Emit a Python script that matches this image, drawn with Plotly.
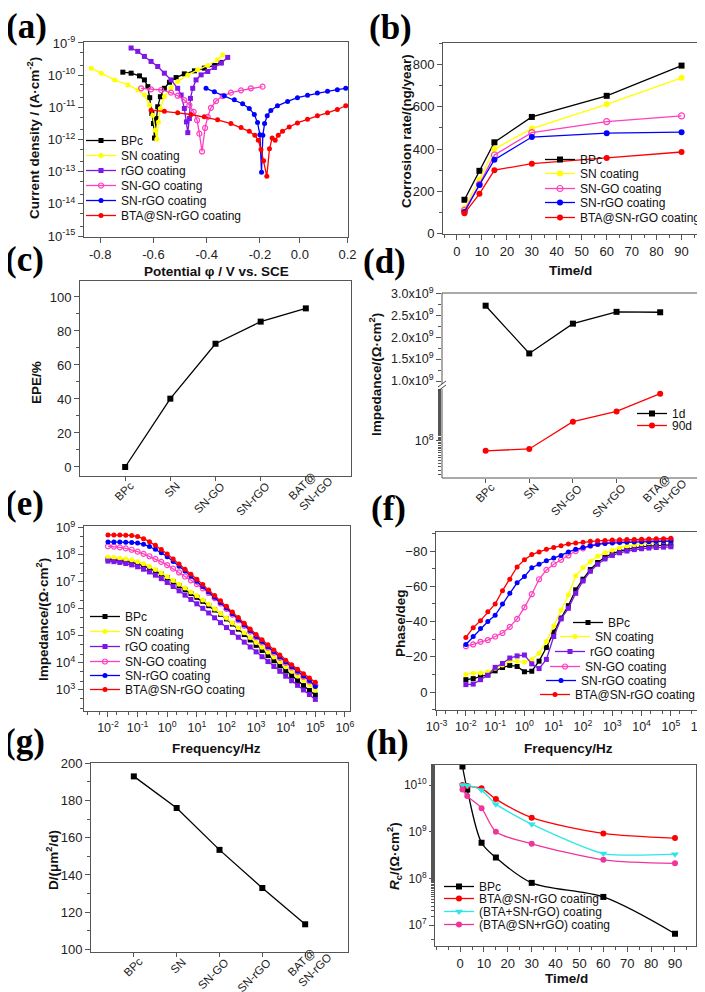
import plotly.graph_objects as go

W, H = 705, 992
FONT = "Liberation Sans, Arial, sans-serif"
SERIF = "Liberation Serif, Times New Roman, serif"

# ---------------- colours ----------------
C_BPC, C_SN, C_RGO, C_SNGO, C_SNRGO, C_BTA = "#000000", "#FFFF00", "#7D16E8", "#FF3FC0", "#0000FF", "#FF0000"
C_CYAN, C_MAG = "#2EE6E6", "#F0359A"

# ---------------- (a) Tafel ----------------
a_bpc_E = [-0.715, -0.684, -0.6525, -0.634, -0.621, -0.614, -0.606, -0.600, -0.596, -0.590, -0.584, -0.574, -0.559, -0.540, -0.515, -0.484, -0.446, -0.409, -0.371, -0.346]
a_bpc_logI = [-9.908, -9.939, -10.023, -10.148, -10.357, -10.701, -11.192, -11.505, -11.954, -11.349, -10.983, -10.670, -10.409, -10.221, -10.075, -9.960, -9.866, -9.783, -9.699, -9.605]
a_sn_E = [-0.834, -0.796, -0.746, -0.696, -0.659, -0.634, -0.615, -0.6025, -0.594, -0.5875, -0.581, -0.574, -0.559, -0.534, -0.509, -0.471, -0.434, -0.396, -0.359, -0.340]
a_sn_logI = [-9.783, -9.939, -10.148, -10.305, -10.461, -10.618, -10.931, -11.244, -11.714, -11.996, -11.453, -11.035, -10.670, -10.388, -10.200, -9.992, -9.835, -9.699, -9.522, -9.365]
a_rgo_E = [-0.684, -0.659, -0.634, -0.609, -0.584, -0.559, -0.534, -0.509, -0.496, -0.484, -0.476, -0.471, -0.465, -0.461, -0.4525, -0.440, -0.421, -0.396, -0.371, -0.346, -0.321]
a_rgo_logI = [-9.157, -9.261, -9.418, -9.574, -9.731, -9.939, -10.148, -10.409, -10.618, -11.035, -11.453, -11.787, -11.349, -10.722, -10.409, -10.148, -9.992, -9.887, -9.762, -9.626, -9.449]
a_sngo_E = [-0.646, -0.609, -0.571, -0.534, -0.509, -0.484, -0.465, -0.449, -0.436, -0.4275, -0.4175, -0.406, -0.396, -0.384, -0.365, -0.340, -0.309, -0.271, -0.234, -0.190]
a_sngo_logI = [-10.409, -10.441, -10.461, -10.545, -10.639, -10.775, -10.931, -11.140, -11.401, -11.818, -12.372, -11.641, -11.296, -11.015, -10.806, -10.649, -10.545, -10.472, -10.409, -10.357]
a_snrgo_E = [-0.4025, -0.371, -0.334, -0.296, -0.265, -0.240, -0.221, -0.209, -0.200, -0.194, -0.189, -0.1825, -0.1725, -0.159, -0.134, -0.096, -0.059, -0.021, 0.016, 0.054, 0.091, 0.1225]
a_snrgo_logI = [-10.409, -10.514, -10.639, -10.764, -10.889, -11.035, -11.223, -11.474, -11.850, -13.019, -11.871, -11.505, -11.265, -11.098, -10.952, -10.816, -10.701, -10.628, -10.555, -10.503, -10.451, -10.409]
a_bta_E = [-0.609, -0.559, -0.509, -0.459, -0.409, -0.359, -0.309, -0.271, -0.240, -0.219, -0.206, -0.196, -0.186, -0.174, -0.164, -0.154, -0.1425, -0.131, -0.115, -0.090, -0.059, -0.021, 0.016, 0.054, 0.091, 0.1225]
a_bta_logI = [-11.088, -11.119, -11.171, -11.223, -11.296, -11.390, -11.505, -11.630, -11.745, -11.871, -12.027, -12.309, -12.664, -13.144, -12.288, -11.954, -12.027, -11.871, -11.745, -11.610, -11.484, -11.370, -11.265, -11.171, -11.067, -10.952]
a_tick_pos = [-0.8, -0.6, -0.4, -0.2, -0.05, 0.129]
a_tick_text = ["-0.8", "-0.6", "-0.4", "-0.2", "0.0", "0.2"]

# ---------------- (b) corrosion rate ----------------
b_days = [3, 9, 15, 30, 60, 90]
b_bpc = [160, 297, 432, 552, 652, 795]
b_sn = [120, 255, 400, 497, 612, 737]
b_sngo = [110, 233, 372, 478, 530, 557]
b_snrgo = [102, 230, 350, 457, 475, 480]
b_bta = [96, 188, 300, 331, 358, 386]

# ---------------- (c) EPE ----------------
cat_c = ["BPc", "SN", "SN-GO", "SN-rGO", "BAT@<br>SN-rGO"]
c_epe = [0, 40.2, 72.5, 85.5, 93.3]

# ---------------- (d) impedance 1d / 90d ----------------
cat_d = ["BPc", "SN", "SN-GO", "SN-rGO", "BTA@<br>SN-rGO"]
d_1d = [2.72e9, 1.63e9, 2.31e9, 2.58e9, 2.57e9]
d_90d = [7.0e7, 7.5e7, 2.0e8, 2.9e8, 5.5e8]

# ---------------- (e) Bode |Z| (log10 values) ----------------
e_logf = [-2.0, -1.8, -1.6, -1.4, -1.2, -1.0, -0.8, -0.6, -0.4, -0.2, 0.0, 0.2, 0.4, 0.6, 0.8, 1.0, 1.2, 1.4, 1.6, 1.8,
          2.0, 2.2, 2.4, 2.6, 2.8, 3.0, 3.2, 3.4, 3.6, 3.8, 4.0, 4.2, 4.4, 4.6, 4.8, 5.0]
e_bpc = [7.84, 7.82, 7.79, 7.76, 7.72, 7.66, 7.59, 7.50, 7.40, 7.29, 7.16, 7.01, 6.86, 6.71, 6.57, 6.43, 6.28, 6.12, 5.96, 5.80,
         5.63, 5.44, 5.25, 5.05, 4.85, 4.65, 4.46, 4.27, 4.08, 3.89, 3.70, 3.52, 3.34, 3.16, 2.98, 2.81]
e_sn = [7.91, 7.90, 7.88, 7.85, 7.81, 7.75, 7.67, 7.57, 7.46, 7.33, 7.19, 7.05, 6.91, 6.77, 6.63, 6.49, 6.33, 6.17, 6.00, 5.83,
        5.66, 5.48, 5.30, 5.12, 4.94, 4.76, 4.58, 4.40, 4.22, 4.04, 3.86, 3.69, 3.52, 3.35, 3.18, 3.00]
e_rgo = [7.77, 7.75, 7.72, 7.68, 7.63, 7.56, 7.47, 7.37, 7.25, 7.12, 6.98, 6.83, 6.67, 6.51, 6.35, 6.19, 6.02, 5.85, 5.67, 5.49,
         5.31, 5.13, 4.95, 4.77, 4.59, 4.41, 4.23, 4.05, 3.87, 3.69, 3.51, 3.34, 3.17, 3.00, 2.83, 2.65]
e_sngo = [8.32, 8.31, 8.28, 8.24, 8.19, 8.12, 8.04, 7.95, 7.85, 7.74, 7.62, 7.49, 7.35, 7.20, 7.06, 6.92, 6.76, 6.59, 6.40, 6.20,
          6.00, 5.79, 5.58, 5.37, 5.16, 4.95, 4.76, 4.57, 4.38, 4.19, 4.00, 3.83, 3.66, 3.49, 3.32, 3.17]
e_snrgo = [8.48, 8.48, 8.48, 8.47, 8.46, 8.44, 8.39, 8.31, 8.21, 8.08, 7.93, 7.76, 7.58, 7.40, 7.21, 7.02, 6.83, 6.63, 6.43, 6.23,
           6.03, 5.82, 5.61, 5.40, 5.19, 4.98, 4.79, 4.60, 4.41, 4.22, 4.03, 3.86, 3.69, 3.52, 3.35, 3.13]
e_bta = [8.74, 8.74, 8.74, 8.73, 8.72, 8.68, 8.60, 8.49, 8.36, 8.20, 8.03, 7.85, 7.66, 7.47, 7.28, 7.10, 6.90, 6.70, 6.50, 6.30,
         6.10, 5.89, 5.68, 5.47, 5.26, 5.05, 4.86, 4.67, 4.48, 4.29, 4.10, 3.93, 3.77, 3.60, 3.44, 3.28]

# ---------------- (f) Bode phase ----------------
f_logf = [-2.0, -1.75, -1.5, -1.25, -1.0, -0.75, -0.5, -0.25, 0.0, 0.25, 0.5, 0.75, 1.0, 1.25, 1.5, 1.75, 2.0, 2.25, 2.5, 2.75,
          3.0, 3.25, 3.5, 3.75, 4.0, 4.25, 4.5, 4.75, 5.0]
f_bpc = [-7.0, -7.6, -8.8, -9.8, -12.0, -13.9, -15.1, -14.5, -11.5, -11.8, -17.5, -25.3, -34.0, -42.0, -49.0, -58.0, -64.0, -69.5, -73.5, -76.5,
         -78.5, -80.0, -81.0, -81.8, -82.4, -82.8, -83.1, -83.3, -83.5]
f_sn = [-10.0, -10.7, -10.8, -11.5, -13.5, -15.3, -17.7, -17.4, -17.0, -18.5, -22.0, -28.7, -37.5, -46.5, -55.0, -66.0, -70.5, -74.0, -77.0, -79.0,
        -80.5, -81.8, -82.8, -83.6, -84.2, -84.7, -85.1, -85.4, -85.6]
f_rgo = [-4.2, -4.5, -7.0, -9.5, -14.0, -16.2, -19.3, -20.5, -21.0, -16.0, -13.3, -18.5, -31.5, -41.5, -47.5, -56.0, -63.0, -68.5, -72.5, -75.5,
         -77.5, -79.0, -80.0, -80.8, -81.3, -81.7, -82.0, -82.2, -82.4]
f_sngo = [-26.0, -27.0, -28.5, -29.5, -31.5, -33.5, -37.0, -41.5, -48.0, -55.5, -64.0, -69.3, -72.5, -75.0, -77.5, -80.0, -81.5, -83.0, -84.0, -84.7,
          -85.2, -85.5, -85.7, -85.9, -86.0, -86.1, -86.2, -86.3, -86.4]
f_snrgo = [-27.0, -31.5, -36.0, -40.0, -43.5, -50.0, -56.0, -62.0, -65.5, -70.5, -72.5, -74.5, -76.0, -77.5, -79.5, -81.0, -82.0, -83.0, -83.8, -84.3,
           -84.6, -84.8, -85.0, -85.1, -85.2, -85.3, -85.4, -85.5, -85.6]
f_bta = [-31.0, -36.5, -40.5, -45.5, -50.0, -57.5, -64.0, -71.0, -75.0, -78.0, -79.5, -81.0, -82.0, -83.0, -84.0, -84.5, -85.0, -85.5, -85.8, -86.0,
         -86.2, -86.4, -86.5, -86.6, -86.7, -86.8, -86.9, -87.0, -87.2]

# ---------------- (g) diffusion ----------------
cat_g = ["BPc", "SN", "SN-GO", "SN-rGO", "BAT@<br>SN-rGO"]
g_D = [193, 176, 153.5, 133, 113.5]

# ---------------- (h) Rc vs time ----------------
h_days = [1, 3, 9, 15, 30, 60, 90]
h_bpc = [2.5e10, 8.0e9, 5.8e8, 2.8e8, 8.0e7, 4.0e7, 6.5e6]
h_bta = [1.0e10, 9.5e9, 8.5e9, 5.0e9, 2.0e9, 9.2e8, 7.3e8]
h_bta_plus = [1.0e10, 9.8e9, 7.8e9, 3.9e9, 1.45e9, 3.4e8, 3.3e8]
h_bta_at = [8.0e9, 5.8e9, 3.2e9, 1.0e9, 5.5e8, 2.5e8, 2.1e8]

# ======================================================================
fig = go.Figure()
layout = dict(width=W, height=H, margin=dict(l=0, r=0, t=0, b=0, autoexpand=False), paper_bgcolor="white",
              plot_bgcolor="white", font=dict(family=FONT, size=13, color="#222"), showlegend=True)
annotations, shapes = [], []
leg_n = [0]


def px_x(x):
    return x / W


def px_y(y):
    return 1 - y / H


def new_legend(line_x, cy):
    leg_n[0] += 1
    key = "legend" if leg_n[0] == 1 else f"legend{leg_n[0]}"
    layout[key] = dict(x=px_x(line_x - 10), y=px_y(cy - 7.5), xanchor="left", yanchor="middle",
                       bgcolor="rgba(0,0,0,0)", borderwidth=0, font=dict(family=FONT, size=12, color="#111"),
                       itemwidth=30, tracegroupgap=0)
    return key


def add(x, y, name, color, symbol, xa, ya, leg=None, size=5, width=1.3, shape="linear", opn=False, smooth=1.0):
    mk = dict(symbol=symbol + ("-open" if opn else ""), size=size, color=color,
              line=dict(color=color, width=1.2 if opn else 0))
    ln = dict(color=color, width=width, shape=shape)
    if shape == "spline":
        ln["smoothing"] = smooth
    kw = dict(x=x, y=y, name=name, mode="lines+markers", xaxis=xa, yaxis=ya, line=ln, marker=mk)
    if leg:
        kw["legend"] = new_legend(*leg)
        kw["showlegend"] = True
    else:
        kw["showlegend"] = False
    fig.add_trace(go.Scatter(**kw))


def axis(dom, rng, **kw):
    d = dict(domain=dom, range=rng, showline=True, mirror=True, linecolor="#555", linewidth=1, ticks="outside",
             ticklen=5, tickwidth=1, tickcolor="#555", tickfont=dict(family=FONT, size=13, color="#222"),
             showgrid=False, zeroline=False, automargin=False)
    d.update(kw)
    return d


def logticks(lo, hi):
    vals = [10.0 ** k for k in range(lo, hi + 1)]
    txt = [f"10<sup>{k}</sup>" for k in range(lo, hi + 1)]
    return dict(tickmode="array", tickvals=vals, ticktext=txt)


MINOR = dict(ticks="outside", ticklen=3, tickcolor="#555", showgrid=False)
CATFONT = dict(family=FONT, size=11.5, color="#222")
LOGXFONT = dict(family=FONT, size=12.5, color="#222")


def xd(l, r):
    return [l / W, r / W]


def yd(t, b):
    return [1 - b / H, 1 - t / H]


def cat_labels(xref, labels, axis_bottom):
    """Rotated category labels placed under the ticks of a category axis."""
    for i, lab in enumerate(labels):
        if "<br>" in lab:
            annotations.append(dict(text=lab, x=i, xref=xref, y=px_y(axis_bottom + 40), yref="paper",
                                    xanchor="right", yanchor="bottom", xshift=32, textangle=-45, align="left",
                                    showarrow=False, font=CATFONT))
        else:
            annotations.append(dict(text=lab, x=i, xref=xref, y=px_y(axis_bottom + 1), yref="paper",
                                    xanchor="right", yanchor="top", xshift=14, textangle=-45,
                                    showarrow=False, font=CATFONT))


# ---------------- (a) ----------------
layout["xaxis"] = axis(xd(76, 340), [-0.861, 0.131], anchor="y", tickmode="array", tickvals=a_tick_pos, ticktext=a_tick_text)
layout["yaxis"] = axis(yd(34, 229), [-15.03, -8.97], anchor="x", type="log", minor=MINOR, **logticks(-15, -9))
leg_a = [(83, 140), (83, 155), (83, 170), (83, 185), (83, 200), (83, 215)]
add(a_bpc_E, [10 ** v for v in a_bpc_logI], "BPc", C_BPC, "square", "x", "y", leg_a[0])
add(a_sn_E, [10 ** v for v in a_sn_logI], "SN coating", C_SN, "circle", "x", "y", leg_a[1])
add(a_rgo_E, [10 ** v for v in a_rgo_logI], "rGO coating", C_RGO, "square", "x", "y", leg_a[2])
add(a_sngo_E, [10 ** v for v in a_sngo_logI], "SN-GO coating", C_SNGO, "circle", "x", "y", leg_a[3], opn=True)
add(a_snrgo_E, [10 ** v for v in a_snrgo_logI], "SN-rGO coating", C_SNRGO, "circle", "x", "y", leg_a[4])
add(a_bta_E, [10 ** v for v in a_bta_logI], "BTA@SN-rGO coating", C_BTA, "circle", "x", "y", leg_a[5])

# ---------------- (b) ----------------
layout["xaxis2"] = axis(xd(435, 698), [-5.6, 99.8], anchor="y2", dtick=10, tick0=0, minor=dict(MINOR, dtick=5))
layout["yaxis2"] = axis(yd(35, 226), [-2, 902], anchor="x2", dtick=200, tick0=0, minor=dict(MINOR, dtick=100))
leg_b = [(542, 159), (542, 173), (542, 188), (542, 202), (542, 217)]
add(b_days, b_bpc, "BPc", C_BPC, "square", "x2", "y2", leg_b[0], size=6)
add(b_days, b_sn, "SN coating", C_SN, "circle", "x2", "y2", leg_b[1], size=6)
add(b_days, b_sngo, "SN-GO coating", C_SNGO, "circle", "x2", "y2", leg_b[2], size=6, opn=True)
add(b_days, b_snrgo, "SN-rGO coating", C_SNRGO, "circle", "x2", "y2", leg_b[3], size=6)
add(b_days, b_bta, "BTA@SN-rGO coating", C_BTA, "circle", "x2", "y2", leg_b[4], size=6)

# ---------------- (c) ----------------
layout["xaxis3"] = axis(xd(72, 343), [-1, 5], anchor="y3", tickmode="array", tickvals=list(range(len(cat_c))),
                        showticklabels=False, ticklen=4)
layout["yaxis3"] = axis(yd(273, 468), [-5.3, 109.4], anchor="x3", dtick=20, tick0=0, minor=dict(MINOR, dtick=10))
add(list(range(len(cat_c))), c_epe, "EPE", C_BPC, "square", "x3", "y3", size=6)
cat_labels("x3", cat_c, 468)

# ---------------- (d) broken axis ----------------
layout["xaxis4"] = axis(xd(434, 698), [-1, 5.05], anchor="y9", tickmode="array", tickvals=list(range(len(cat_d))),
                        showticklabels=False, showline=False, mirror=False, ticklen=4)
layout["yaxis4"] = axis(yd(285, 378), [0.886e9, 3.01e9], anchor="x4", tickmode="array",
                        tickvals=[1.0e9, 1.5e9, 2.0e9, 2.5e9, 3.0e9],
                        ticktext=["1.0x10<sup>9</sup>", "1.5x10<sup>9</sup>", "2.0x10<sup>9</sup>", "2.5x10<sup>9</sup>", "3.0x10<sup>9</sup>"],
                        tickfont=dict(family=FONT, size=12.5, color="#222"),
                        showline=False, mirror=False, minor=dict(MINOR, dtick=0.25e9))
layout["yaxis9"] = axis(yd(378, 470), [7.42, 8.86], anchor="x4", type="log", showline=False, mirror=False,
                        minor=MINOR, tickfont=dict(family=FONT, size=12.5, color="#222"), **logticks(8, 8))
add(list(range(len(cat_d))), d_1d, "1d", C_BPC, "square", "x4", "y4", (634, 413), size=6)
add(list(range(len(cat_d))), d_90d, "90d", C_BTA, "circle", "x4", "y9", (634, 425), size=6)
cat_labels("x4", cat_d, 470)
shapes.append(dict(type="rect", xref="paper", yref="paper", x0=px_x(434), x1=px_x(698), y0=px_y(470), y1=px_y(285),
                   line=dict(color="#555", width=1)))
for bx in (434, 698):
    shapes.append(dict(type="rect", xref="paper", yref="paper", x0=px_x(bx - 4), x1=px_x(bx + 4), y0=px_y(381),
                       y1=px_y(376), line=dict(width=0), fillcolor="white"))
    for dy in (0, 4):
        shapes.append(dict(type="line", xref="paper", yref="paper", x0=px_x(bx - 4), x1=px_x(bx + 4),
                           y0=px_y(379 + dy), y1=px_y(373 + dy), line=dict(color="#444", width=1)))

# ---------------- (e) ----------------
layout["xaxis5"] = axis(xd(76, 342), [-2.81, 6.17], anchor="y5", type="log", minor=MINOR, tickfont=LOGXFONT,
                        **logticks(-2, 6))
layout["yaxis5"] = axis(yd(518, 703), [2.22, 9.07], anchor="x5", type="log", minor=MINOR, **logticks(3, 9))
e_f = [10 ** v for v in e_logf]
leg_e = [(87, 616), (87, 631), (87, 646), (87, 661), (87, 675), (87, 689)]
add(e_f, [10 ** v for v in e_bpc], "BPc", C_BPC, "square", "x5", "y5", leg_e[0])
add(e_f, [10 ** v for v in e_sn], "SN coating", C_SN, "circle", "x5", "y5", leg_e[1])
add(e_f, [10 ** v for v in e_rgo], "rGO coating", C_RGO, "square", "x5", "y5", leg_e[2])
add(e_f, [10 ** v for v in e_sngo], "SN-GO coating", C_SNGO, "circle", "x5", "y5", leg_e[3], opn=True)
add(e_f, [10 ** v for v in e_snrgo], "SN-rGO coating", C_SNRGO, "circle", "x5", "y5", leg_e[4])
add(e_f, [10 ** v for v in e_bta], "BTA@SN-rGO coating", C_BTA, "circle", "x5", "y5", leg_e[5])

# ---------------- (f) ----------------
layout["xaxis6"] = axis(xd(428, 698), [-3.02, 6.2], anchor="y6", type="log", minor=MINOR, tickfont=LOGXFONT,
                        **logticks(-3, 6))
layout["yaxis6"] = axis(yd(524, 702), [10.2, -90.8], anchor="x6", tickmode="array", tickvals=[-80, -60, -40, -20, 0],
                        minor=dict(MINOR, dtick=10))
f_f = [10 ** v for v in f_logf]
leg_f = [(570, 622), (557, 636), (552, 651), (547, 666), (543, 680), (537, 694)]
add(f_f, f_bpc, "BPc", C_BPC, "square", "x6", "y6", leg_f[0])
add(f_f, f_sn, "SN coating", C_SN, "circle", "x6", "y6", leg_f[1])
add(f_f, f_rgo, "rGO coating", C_RGO, "square", "x6", "y6", leg_f[2])
add(f_f, f_sngo, "SN-GO coating", C_SNGO, "circle", "x6", "y6", leg_f[3], opn=True)
add(f_f, f_snrgo, "SN-rGO coating", C_SNRGO, "circle", "x6", "y6", leg_f[4])
add(f_f, f_bta, "BTA@SN-rGO coating", C_BTA, "circle", "x6", "y6", leg_f[5])

# ---------------- (g) ----------------
layout["xaxis7"] = axis(xd(83, 340), [-1, 5], anchor="y7", tickmode="array", tickvals=list(range(len(cat_g))),
                        showticklabels=False, ticklen=4)
layout["yaxis7"] = axis(yd(755, 944), [98.6, 200.2], anchor="x7", dtick=20, tick0=0, minor=dict(MINOR, dtick=10))
add(list(range(len(cat_g))), g_D, "D", C_BPC, "square", "x7", "y7", size=6)
cat_labels("x7", cat_g, 944)

# ---------------- (h) ----------------
layout["xaxis8"] = axis(xd(427, 688), [-10.5, 98.8], anchor="y8", tickmode="array", tickvals=list(range(0, 100, 10)),
                        minor=dict(MINOR, dtick=5))
layout["yaxis8"] = axis(yd(757, 938), [6.55, 10.43], anchor="x8", type="log", minor=MINOR,
                        tickfont=dict(family=FONT, size=12, color="#222"), **logticks(7, 10))
leg_h = [(441, 886), (441, 898), (441, 911), (441, 924)]
add(h_days, h_bpc, "BPc", C_BPC, "square", "x8", "y8", leg_h[0], size=6, shape="spline", smooth=0.9)
add(h_days, h_bta, "BTA@SN-rGO coating", C_BTA, "circle", "x8", "y8", leg_h[1], size=6, shape="spline", smooth=0.8)
add(h_days, h_bta_plus, "(BTA+SN-rGO) coating", C_CYAN, "triangle-down", "x8", "y8", leg_h[2], size=7,
    shape="spline", smooth=0.6)
add(h_days, h_bta_at, "(BTA@SN+rGO) coating", C_MAG, "circle", "x8", "y8", leg_h[3], size=6, shape="spline", smooth=0.8)


# ---------------- text annotations ----------------
def ann(text, x, y, size=13.5, angle=0, family=FONT, color="#111"):
    annotations.append(dict(text=text, x=px_x(x), y=px_y(y), xref="paper", yref="paper", showarrow=False,
                            xanchor="center", yanchor="middle", textangle=angle,
                            font=dict(family=family, size=size, color=color)))


for lab, x, y in [("(a)", 18, 18), ("(b)", 382, 19), ("(c)", 16, 251), ("(d)", 376, 253),
                  ("(e)", 16, 495), ("(f)", 380, 500), ("(g)", 16, 733), ("(h)", 379, 734)]:
    ann(f"<b>{lab}</b>", x, y, size=35, family=SERIF, color="#000")

ann("<b>Current density / (A·cm<sup>-2</sup>)</b>", 25, 130, angle=-90)
ann("<b>Corrosion rate/(ng/year)</b>", 398, 123, angle=-90)
ann("<b>EPE/%</b>", 28, 375, angle=-90)
ann("<b>Impedance/(Ω·cm<sup>2</sup>)</b>", 367, 367, angle=-90)
ann("<b>Impedance/(Ω·cm<sup>2</sup>)</b>", 34, 612, angle=-90)
ann("<b>Phase/deg</b>", 392, 615, angle=-90)
ann("<b>D/(μm<sup>2</sup>/d)</b>", 44, 852, angle=-90)
ann("<b><i>R</i><sub>c</sub>/(Ω·cm<sup>2</sup>)</b>", 386, 848, angle=-90)

ann("<b>Potential φ / V vs. SCE</b>", 208, 263)
ann("<b>Time/d</b>", 562, 262)
ann("<b>Frequency/Hz</b>", 208, 740)
ann("<b>Frequency/Hz</b>", 560, 740)
ann("<b>Time/d</b>", 558, 970)

layout["annotations"] = annotations
layout["shapes"] = shapes
fig.update_layout(**layout)
fig.write_html("out.html")
